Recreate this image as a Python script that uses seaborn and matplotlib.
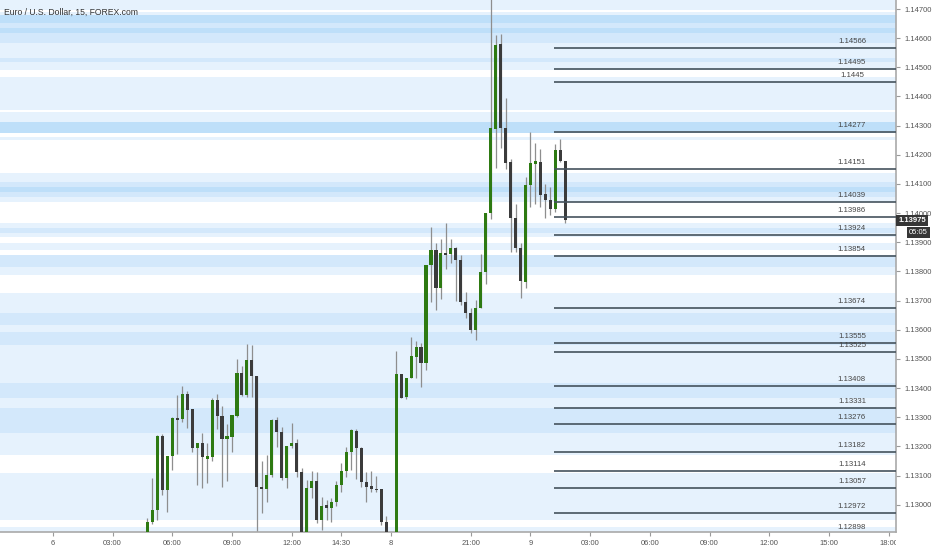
import numpy as np
import pandas as pd
import matplotlib
matplotlib.use("Agg")
import matplotlib.pyplot as plt
import seaborn as sns
from matplotlib.transforms import blended_transform_factory, Bbox, TransformedBbox

# ---------------- data ----------------
title = "Euro / U.S. Dollar, 15, FOREX.com"
first_bar = 19  # 15-min bar index of first candle (from day 6 00:00)

opens = [
    1.12879, 1.12939, 1.12982, 1.13234, 1.13051, 1.13167, 1.13298, 1.13294, 1.13380, 1.13329,
    1.13195, 1.13213, 1.13158, 1.13165, 1.13359, 1.13304, 1.13227, 1.13232, 1.13304, 1.13452,
    1.13377, 1.13497, 1.13443, 1.13062, 1.13054, 1.13103, 1.13291, 1.13250, 1.13093, 1.13203,
    1.13212, 1.13112, 1.12879, 1.13057, 1.13082, 1.12948, 1.12999, 1.12989, 1.13008, 1.13066,
    1.13114, 1.13182, 1.13253, 1.13194, 1.13077, 1.13065, 1.13055, 1.13053, 1.12939, 1.12850,
    1.12860, 1.13448, 1.13371, 1.13436, 1.13508, 1.13540, 1.13485, 1.13822, 1.13874, 1.13744,
    1.13862, 1.13859, 1.13880, 1.13839, 1.13696, 1.13659, 1.13599, 1.13674, 1.13799, 1.14000,
    1.14288, 1.14580, 1.14293, 1.14174, 1.13982, 1.13882, 1.13765, 1.14097, 1.14169, 1.14176,
    1.14065, 1.14045, 1.14014, 1.14217, 1.14180]

closes = [
    1.12939, 1.12982, 1.13234, 1.13051, 1.13167, 1.13298, 1.13291, 1.13380, 1.13325, 1.13195,
    1.13213, 1.13162, 1.13167, 1.13359, 1.13304, 1.13226, 1.13236, 1.13308, 1.13452, 1.13377,
    1.13497, 1.13443, 1.13062, 1.13053, 1.13103, 1.13291, 1.13250, 1.13093, 1.13203, 1.13212,
    1.13112, 1.12879, 1.13058, 1.13082, 1.12948, 1.12996, 1.12990, 1.13009, 1.13068, 1.13117,
    1.13182, 1.13257, 1.13194, 1.13077, 1.13062, 1.13053, 1.13051, 1.12939, 1.12897, 1.12860,
    1.13448, 1.13367, 1.13436, 1.13511, 1.13540, 1.13485, 1.13822, 1.13874, 1.13744, 1.13862,
    1.13857, 1.13880, 1.13839, 1.13696, 1.13659, 1.13599, 1.13674, 1.13799, 1.14000, 1.14291,
    1.14577, 1.14293, 1.14173, 1.13982, 1.13880, 1.13767, 1.14097, 1.14171, 1.14179, 1.14062,
    1.14045, 1.14014, 1.14217, 1.14180, 1.13975]

highs = [
    1.12955, 1.13092, 1.13239, 1.13243, 1.13167, 1.13302, 1.13377, 1.13407, 1.13390, 1.13329,
    1.13213, 1.13247, 1.13213, 1.13366, 1.13380, 1.13339, 1.13277, 1.13308, 1.13500, 1.13474,
    1.13551, 1.13548, 1.13443, 1.13150, 1.13171, 1.13294, 1.13302, 1.13268, 1.13203, 1.13281,
    1.13226, 1.13127, 1.13085, 1.13116, 1.13112, 1.13028, 1.13016, 1.13024, 1.13080, 1.13143,
    1.13198, 1.13260, 1.13260, 1.13199, 1.13112, 1.13114, 1.13099, 1.13053, 1.12962, 1.12870,
    1.13527, 1.13448, 1.13436, 1.13575, 1.13563, 1.13554, 1.13822, 1.13952, 1.13897, 1.13910,
    1.13967, 1.13910, 1.13883, 1.13857, 1.13731, 1.13674, 1.13702, 1.13860, 1.14000, 1.14760,
    1.14611, 1.14614, 1.14394, 1.14185, 1.14031, 1.13899, 1.14125, 1.14279, 1.14240, 1.14219,
    1.14099, 1.14089, 1.14237, 1.14253, 1.14180]

lows = [
    1.12862, 1.12934, 1.12946, 1.13034, 1.12976, 1.13119, 1.13174, 1.13285, 1.13263, 1.13181,
    1.13068, 1.13057, 1.13076, 1.13150, 1.13260, 1.13061, 1.13083, 1.13182, 1.13301, 1.13373,
    1.13371, 1.13371, 1.12905, 1.12972, 1.13011, 1.13096, 1.13199, 1.13085, 1.13057, 1.13195,
    1.13096, 1.12862, 1.12870, 1.13024, 1.12938, 1.12914, 1.12948, 1.12939, 1.12994, 1.13045,
    1.13096, 1.13119, 1.13089, 1.13062, 1.13011, 1.13045, 1.13045, 1.12931, 1.12880, 1.12830,
    1.12850, 1.13365, 1.13362, 1.13434, 1.13434, 1.13403, 1.13462, 1.13696, 1.13668, 1.13705,
    1.13808, 1.13828, 1.13699, 1.13685, 1.13640, 1.13589, 1.13565, 1.13674, 1.13756, 1.13979,
    1.14154, 1.14222, 1.14151, 1.13866, 1.13868, 1.13710, 1.13742, 1.14022, 1.14031, 1.14022,
    1.13982, 1.13994, 1.14005, 1.14176, 1.13967]

levels = [1.14566, 1.14495, 1.1445, 1.14277, 1.14151, 1.14039, 1.13986, 1.13924, 1.13854,
          1.13674, 1.13555, 1.13525, 1.13408, 1.13331, 1.13276, 1.13182, 1.13114, 1.13057,
          1.12972, 1.12898]
level_start = 100.7

band_lo = [1.14697, 1.14680, 1.14652, 1.14635, 1.14618, 1.14584, 1.14532, 1.14518, 1.14491,
           1.14354, 1.14313, 1.14275, 1.14251, 1.14107, 1.14090, 1.14073, 1.14055, 1.14038,
           1.13949, 1.13932, 1.13918, 1.13874, 1.13815, 1.13788, 1.13658, 1.13617, 1.13593,
           1.13548, 1.13418, 1.13366, 1.13332, 1.13246, 1.13171, 1.12948, 1.12880]
band_hi = [1.14740, 1.14690, 1.14680, 1.14652, 1.14635, 1.14618, 1.14584, 1.14532, 1.14518,
           1.14467, 1.14347, 1.14313, 1.14261, 1.14138, 1.14107, 1.14090, 1.14073, 1.14055,
           1.13966, 1.13949, 1.13932, 1.13898, 1.13857, 1.13815, 1.13726, 1.13658, 1.13617,
           1.13593, 1.13548, 1.13418, 1.13366, 1.13332, 1.13246, 1.13109, 1.12924]
band_level = ["l", "l", "d", "m", "d", "m", "l", "m", "l",
              "l", "l", "d", "l", "l", "m", "d", "m", "l",
              "l", "m", "l", "l", "m", "l", "l", "m", "l",
              "m", "l", "m", "l", "m", "l", "l", "l"]

tick_pos = [0, 12, 24, 36, 48, 58, 68, 84, 96, 108, 120, 132, 144, 156, 168]
tick_labels = ["6", "03:00", "06:00", "09:00", "12:00", "14:30", "8", "21:00", "9",
               "03:00", "06:00", "09:00", "12:00", "15:00", "18:00"]
price_ticks = [1.130, 1.131, 1.132, 1.133, 1.134, 1.135, 1.136, 1.137, 1.138,
               1.139, 1.140, 1.141, 1.142, 1.143, 1.144, 1.145, 1.146, 1.147]
last_price = 1.13975
countdown = "05:05"

# ---------------- style ----------------
sns.set_theme(style="white")
plt.rcParams["font.family"] = ["Liberation Sans", "DejaVu Sans"]

band_colors = {"l": "#e6f2fd", "m": "#d3e8fb", "d": "#bedff9"}
up_color = "#2e7a12"
down_color = "#3b3b3b"
wick_color = "#8e8e8e"
level_color = "#45535d"

df = pd.DataFrame({"open": opens, "high": highs, "low": lows, "close": closes})
df["bar"] = np.arange(first_bar, first_bar + len(df))
df["up"] = df["close"] >= df["open"]

fig = plt.figure(figsize=(9.32, 5.5), dpi=100)
ax = fig.add_axes([0, 18 / 550, 896 / 932, 532 / 550])
ax.set_facecolor("white")

xmin, xmax = -10.63, 169.47
ax.set_xlim(xmin, xmax)
ax.set_ylim(1.129064, 1.147309)

for lo, hi, lv in zip(band_lo, band_hi, band_level):
    ax.axhspan(lo, hi, color=band_colors[lv], lw=0, zorder=0)

# candles
ax.vlines(df["bar"], df["low"], df["high"], color=wick_color, lw=0.9, zorder=2)
bottoms = np.minimum(df["open"], df["close"])
heights = np.maximum((df["close"] - df["open"]).abs(), 0.00004)
colors = np.where(df["up"], up_color, down_color)
ax.bar(df["bar"], heights, bottom=bottoms, width=0.62, color=colors, lw=0, zorder=3)

# level lines and labels
ax.hlines(levels, level_start, xmax, color=level_color, lw=1.2, zorder=4)
for v in levels:
    ax.annotate(str(v), xy=(160.6, v), xytext=(0, 2.2), textcoords="offset points",
                ha="center", va="bottom", fontsize=5.6, color="#454545", zorder=5,
                annotation_clip=False)

# title
ax.text(4 / 896, 1 - 12 / 532, title, transform=ax.transAxes, ha="left", va="center",
        fontsize=6.2, color="#333333", zorder=6)

# axes styling
for s in ["top", "left"]:
    ax.spines[s].set_visible(False)
for s in ["bottom", "right"]:
    ax.spines[s].set_color("#a9a9a9")
    ax.spines[s].set_linewidth(1.2)

ax.set_xticks(tick_pos, tick_labels)
ax.tick_params(axis="x", bottom=True, length=3, width=0.8, color="#9a9a9a",
               labelsize=5.5, labelcolor="#555555", pad=3)
ax.yaxis.tick_right()
ax.set_yticks(price_ticks, [f"{v:.5f}" for v in price_ticks])
ax.tick_params(axis="y", right=True, left=False, labelright=True, labelleft=False,
               length=3, width=0.8, color="#9a9a9a", labelsize=5.5, labelcolor="#555555", pad=3)
ax.grid(False)

clip = TransformedBbox(Bbox([[0, 0], [896 / 932, 1]]), fig.transFigure)
last_tick = ax.xaxis.get_major_ticks()[-1]
last_tick.label1.set_clip_box(clip)
last_tick.label1.set_clip_on(True)

trans = blended_transform_factory(ax.transAxes, ax.transData)
ax.text(1.0 + 2.5 / 896, last_price, f"{last_price:.5f}", transform=trans, ha="left",
        va="center", fontsize=5.5, color="white", fontweight="bold", clip_on=False, zorder=10,
        bbox=dict(boxstyle="square,pad=0.3", fc="#363636", ec="none"))
ax.annotate(countdown, xy=(1.0, last_price), xycoords=trans, xytext=(16.2, -8.7),
            textcoords="offset points", ha="center", va="center", fontsize=5.5,
            color="white", annotation_clip=False, zorder=10,
            bbox=dict(boxstyle="square,pad=0.3", fc="#363636", ec="none"))

fig.savefig("out.png", dpi=100, facecolor="white")
